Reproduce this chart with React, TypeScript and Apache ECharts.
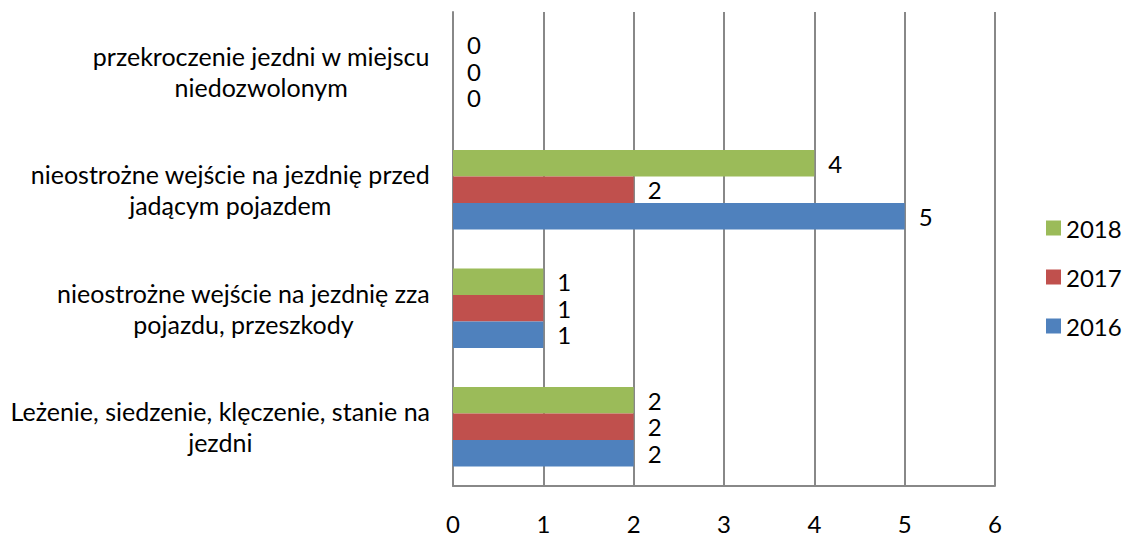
import React, { useEffect, useRef } from "react";
import * as echarts from "echarts";

const categories = [
  "Leżenie, siedzenie, klęczenie, stanie na\njezdni",
  "nieostrożne wejście na jezdnię zza\npojazdu, przeszkody",
  "nieostrożne wejście na jezdnię przed\njadącym pojazdem",
  "przekroczenie jezdni w miejscu\nniedozwolonym",
];
const values2016 = [2, 1, 5, 0];
const values2017 = [2, 1, 2, 0];
const values2018 = [2, 1, 4, 0];
const seriesNames = ["2018", "2017", "2016"];
const legendOrder = ["2018", "2017", "2016"];
const xTicks = [0, 1, 2, 3, 4, 5, 6];

const FONT = "Lato, Carlito, Calibri, sans-serif";
const FS = 24;

export default function App() {
  const ref = useRef<HTMLDivElement>(null);
  useEffect(() => {
    if (!ref.current) return;
    const chart = echarts.init(ref.current, undefined, { renderer: "svg" });
    const colors = ["#9BBB59", "#C0504D", "#4F81BD"];
    const data = [values2018, values2017, values2016];
    chart.setOption({
      animation: false,
      textStyle: { fontFamily: FONT },
      grid: { left: 453, right: 129, top: 12, bottom: 52, containLabel: false },
      legend: {
        orient: "vertical",
        left: 1041,
        top: 211,
        data: legendOrder,
        icon: "rect",
        itemWidth: 15,
        itemHeight: 15,
        itemGap: 25,
        textStyle: { fontSize: FS, color: "#000", fontFamily: FONT },
      },
      xAxis: {
        type: "value",
        min: xTicks[0],
        max: xTicks[xTicks.length - 1],
        interval: 1,
        axisLine: { show: true, lineStyle: { color: "#888", width: 2 } },
        axisTick: { show: false },
        splitLine: { show: true, lineStyle: { color: "#888", width: 2 } },
        axisLabel: { fontSize: FS, color: "#000", margin: 25, fontFamily: FONT },
      },
      yAxis: {
        type: "category",
        data: categories,
        axisLine: { show: true, lineStyle: { color: "#888", width: 2 } },
        axisTick: { show: false },
        axisLabel: {
          fontSize: 25,
          color: "#000",
          margin: 23,
          lineHeight: 31,
          fontFamily: FONT,
          formatter: (v: string) =>
            v
              .split("\n")
              .map((l) => "{c|" + l + "}")
              .join("\n"),
          rich: {
            c: { align: "center", fontSize: 25, lineHeight: 31, color: "#000", fontFamily: FONT },
          },
        },
      },
      series: seriesNames.map((name, i) => ({
        name,
        type: "bar",
        data: data[i],
        barGap: "0%",
        barCategoryGap: "33%",
        itemStyle: { color: colors[i] },
        label: {
          show: true,
          position: "right",
          distance: 14,
          fontSize: FS,
          color: "#000",
          fontFamily: FONT,
        },
      })),
    });
    return () => chart.dispose();
  }, []);
  return (
    <div
      ref={ref}
      style={{ position: "fixed", left: 0, top: 0, width: 1124, height: 538, background: "#fff" }}
    />
  );
}
